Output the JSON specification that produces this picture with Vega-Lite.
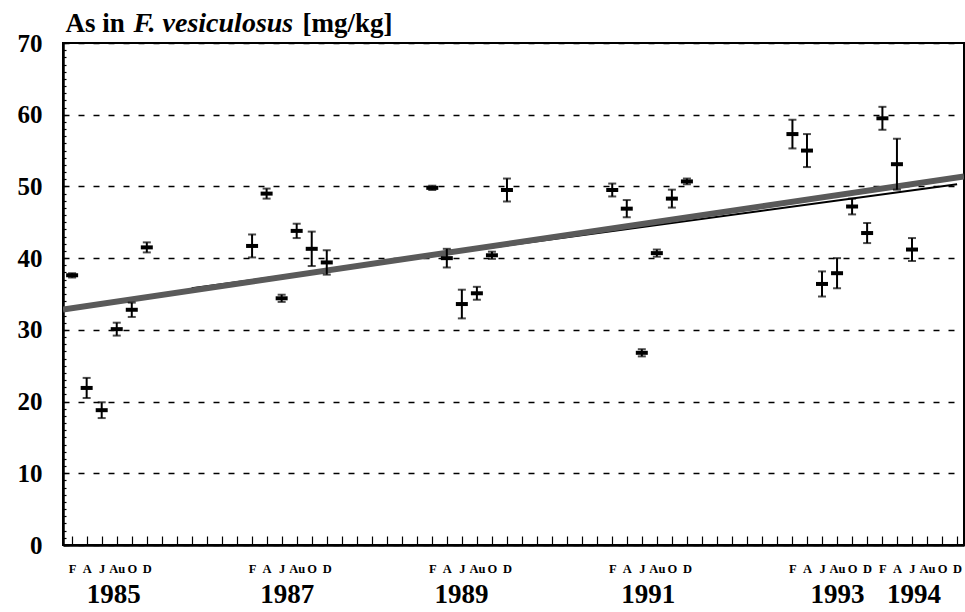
{
  "$schema": "https://vega.github.io/schema/vega-lite/v6.json",
  "width": 901,
  "height": 502,
  "autosize": "none",
  "padding": {"left": 63, "top": 43, "right": 1, "bottom": 67},
  "background": "white",
  "config": {"view": {"stroke": "black", "strokeWidth": 2}},
  "datasets": {
    "points": [
      {"date": "1985-02-01", "as": 37.6, "err": 0.3},
      {"date": "1985-04-01", "as": 21.9, "err": 1.4},
      {"date": "1985-06-01", "as": 18.8, "err": 1.1},
      {"date": "1985-08-01", "as": 30.1, "err": 0.9},
      {"date": "1985-10-01", "as": 32.8, "err": 1.0},
      {"date": "1985-12-01", "as": 41.5, "err": 0.7},
      {"date": "1987-02-01", "as": 41.7, "err": 1.6},
      {"date": "1987-04-01", "as": 49.0, "err": 0.7},
      {"date": "1987-06-01", "as": 34.4, "err": 0.5},
      {"date": "1987-08-01", "as": 43.8, "err": 1.0},
      {"date": "1987-10-01", "as": 41.3, "err": 2.4},
      {"date": "1987-12-01", "as": 39.4, "err": 1.7},
      {"date": "1989-02-01", "as": 49.8, "err": 0.3},
      {"date": "1989-04-01", "as": 40.0, "err": 1.3},
      {"date": "1989-06-01", "as": 33.6, "err": 2.0},
      {"date": "1989-08-01", "as": 35.1, "err": 0.9},
      {"date": "1989-10-01", "as": 40.4, "err": 0.5},
      {"date": "1989-12-01", "as": 49.5, "err": 1.6},
      {"date": "1991-02-01", "as": 49.5, "err": 0.9},
      {"date": "1991-04-01", "as": 46.9, "err": 1.2},
      {"date": "1991-06-01", "as": 26.8, "err": 0.5},
      {"date": "1991-08-01", "as": 40.7, "err": 0.5},
      {"date": "1991-10-01", "as": 48.3, "err": 1.25},
      {"date": "1991-12-01", "as": 50.7, "err": 0.4},
      {"date": "1993-02-01", "as": 57.3, "err": 2.0},
      {"date": "1993-04-01", "as": 55.0, "err": 2.3},
      {"date": "1993-06-01", "as": 36.4, "err": 1.75},
      {"date": "1993-08-01", "as": 37.9, "err": 2.1},
      {"date": "1993-10-01", "as": 47.2, "err": 1.1},
      {"date": "1993-12-01", "as": 43.5, "err": 1.4},
      {"date": "1994-02-01", "as": 59.5, "err": 1.6},
      {"date": "1994-04-01", "as": 53.1, "err": 3.55},
      {"date": "1994-06-01", "as": 41.2, "err": 1.6}
    ],
    "blackTrend": [
      {"date": "1986-06-01", "as": 35.8},
      {"date": "1994-12-01", "as": 50.3}
    ],
    "greyTrend": [
      {"date": "1984-12-26", "as": 32.85},
      {"date": "1994-12-29", "as": 51.4}
    ]
  },
  "resolve": {"axis": {"x": "independent", "y": "independent"}},
  "layer": [
    {
      "data": {"name": "blackTrend"},
      "mark": {"type": "line", "color": "black", "strokeWidth": 2, "clip": true},
      "encoding": {
        "x": {
          "field": "date", "type": "temporal",
          "scale": {"domain": [{"year": 1984, "month": 12, "date": 26, "utc": true}, {"year": 1994, "month": 12, "date": 29, "utc": true}]},
          "axis": {
            "orient": "bottom",
            "title": null,
            "values": [
              {"year": 1985, "month": 2, "date": 1, "utc": true}, {"year": 1985, "month": 4, "date": 1, "utc": true}, {"year": 1985, "month": 6, "date": 1, "utc": true}, {"year": 1985, "month": 8, "date": 1, "utc": true}, {"year": 1985, "month": 10, "date": 1, "utc": true}, {"year": 1985, "month": 12, "date": 1, "utc": true},
              {"year": 1986, "month": 2, "date": 1, "utc": true}, {"year": 1986, "month": 4, "date": 1, "utc": true}, {"year": 1986, "month": 6, "date": 1, "utc": true}, {"year": 1986, "month": 8, "date": 1, "utc": true}, {"year": 1986, "month": 10, "date": 1, "utc": true}, {"year": 1986, "month": 12, "date": 1, "utc": true},
              {"year": 1987, "month": 2, "date": 1, "utc": true}, {"year": 1987, "month": 4, "date": 1, "utc": true}, {"year": 1987, "month": 6, "date": 1, "utc": true}, {"year": 1987, "month": 8, "date": 1, "utc": true}, {"year": 1987, "month": 10, "date": 1, "utc": true}, {"year": 1987, "month": 12, "date": 1, "utc": true},
              {"year": 1988, "month": 2, "date": 1, "utc": true}, {"year": 1988, "month": 4, "date": 1, "utc": true}, {"year": 1988, "month": 6, "date": 1, "utc": true}, {"year": 1988, "month": 8, "date": 1, "utc": true}, {"year": 1988, "month": 10, "date": 1, "utc": true}, {"year": 1988, "month": 12, "date": 1, "utc": true},
              {"year": 1989, "month": 2, "date": 1, "utc": true}, {"year": 1989, "month": 4, "date": 1, "utc": true}, {"year": 1989, "month": 6, "date": 1, "utc": true}, {"year": 1989, "month": 8, "date": 1, "utc": true}, {"year": 1989, "month": 10, "date": 1, "utc": true}, {"year": 1989, "month": 12, "date": 1, "utc": true},
              {"year": 1990, "month": 2, "date": 1, "utc": true}, {"year": 1990, "month": 4, "date": 1, "utc": true}, {"year": 1990, "month": 6, "date": 1, "utc": true}, {"year": 1990, "month": 8, "date": 1, "utc": true}, {"year": 1990, "month": 10, "date": 1, "utc": true}, {"year": 1990, "month": 12, "date": 1, "utc": true},
              {"year": 1991, "month": 2, "date": 1, "utc": true}, {"year": 1991, "month": 4, "date": 1, "utc": true}, {"year": 1991, "month": 6, "date": 1, "utc": true}, {"year": 1991, "month": 8, "date": 1, "utc": true}, {"year": 1991, "month": 10, "date": 1, "utc": true}, {"year": 1991, "month": 12, "date": 1, "utc": true},
              {"year": 1992, "month": 2, "date": 1, "utc": true}, {"year": 1992, "month": 4, "date": 1, "utc": true}, {"year": 1992, "month": 6, "date": 1, "utc": true}, {"year": 1992, "month": 8, "date": 1, "utc": true}, {"year": 1992, "month": 10, "date": 1, "utc": true}, {"year": 1992, "month": 12, "date": 1, "utc": true},
              {"year": 1993, "month": 2, "date": 1, "utc": true}, {"year": 1993, "month": 4, "date": 1, "utc": true}, {"year": 1993, "month": 6, "date": 1, "utc": true}, {"year": 1993, "month": 8, "date": 1, "utc": true}, {"year": 1993, "month": 10, "date": 1, "utc": true}, {"year": 1993, "month": 12, "date": 1, "utc": true},
              {"year": 1994, "month": 2, "date": 1, "utc": true}, {"year": 1994, "month": 4, "date": 1, "utc": true}, {"year": 1994, "month": 6, "date": 1, "utc": true}, {"year": 1994, "month": 8, "date": 1, "utc": true}, {"year": 1994, "month": 10, "date": 1, "utc": true}, {"year": 1994, "month": 12, "date": 1, "utc": true}
            ],
            "labelExpr": "(utcyear(datum.value) % 2 == 1 || utcyear(datum.value) == 1994) ? ['F','A','J','Au','O','D'][floor(utcmonth(datum.value)/2)] : ''",
            "labelAngle": 0,
            "labelOverlap": false,
            "labelFlush": false,
            "labelBound": false,
            "labelFont": "Liberation Serif",
            "labelFontWeight": "bold",
            "labelFontSize": 12.5,
            "labelColor": "black",
            "labelBaseline": "middle",
            "labelPadding": 32,
            "tickSize": -9,
            "tickWidth": 1.2,
            "tickColor": "black",
            "domain": true,
            "domainColor": "black",
            "domainWidth": 2.5,
            "grid": false
          }
        },
        "y": {
          "field": "as", "type": "quantitative",
          "scale": {"domain": [0, 70], "nice": false},
          "axis": {
            "orient": "left",
            "values": [0, 10, 20, 30, 40, 50, 60, 70],
            "title": "F. vesiculosus",
            "titleFont": "Liberation Serif",
            "titleFontStyle": "italic",
            "titleFontWeight": "bold",
            "titleFontSize": 28,
            "titleColor": "black",
            "titleAngle": 0,
            "titleAlign": "left",
            "titleBaseline": "alphabetic",
            "titleX": 70,
            "titleY": -12,
            "labelFont": "Liberation Serif",
            "labelFontWeight": "bold",
            "labelFontSize": 25,
            "labelColor": "black",
            "labelPadding": 21,
            "ticks": false,
            "domain": true,
            "domainColor": "black",
            "domainWidth": 2.5,
            "grid": true,
            "gridColor": "black",
            "gridDash": [6, 9],
            "gridWidth": 1.3,
            "gridOpacity": 1
          }
        }
      }
    },
    {
      "data": {"name": "greyTrend"},
      "mark": {"type": "line", "color": "#5a5a5a", "strokeWidth": 6, "clip": true},
      "encoding": {
        "x": {
          "field": "date", "type": "temporal",
          "axis": {
            "orient": "bottom",
            "title": "As in",
            "titleFont": "Liberation Serif",
            "titleFontWeight": "bold",
            "titleFontSize": 27,
            "titleColor": "black",
            "titleAngle": 0,
            "titleAlign": "left",
            "titleBaseline": "alphabetic",
            "titleX": 2,
            "titleY": -514,
            "values": [
              {"year": 1985, "month": 7, "date": 18, "utc": true},
              {"year": 1987, "month": 6, "date": 22, "utc": true},
              {"year": 1989, "month": 5, "date": 29, "utc": true},
              {"year": 1991, "month": 6, "date": 25, "utc": true},
              {"year": 1993, "month": 8, "date": 1, "utc": true},
              {"year": 1994, "month": 6, "date": 7, "utc": true}
            ],
            "labelExpr": "'' + utcyear(datum.value)",
            "labelAngle": 0,
            "labelOverlap": false,
            "labelFlush": false,
            "labelBound": false,
            "labelFont": "Liberation Serif",
            "labelFontWeight": "bold",
            "labelFontSize": 27,
            "labelColor": "black",
            "labelBaseline": "middle",
            "labelPadding": 49,
            "ticks": false,
            "domain": false,
            "grid": false
          }
        },
        "y": {
          "field": "as", "type": "quantitative",
          "axis": {
            "orient": "left",
            "values": [0,1,2,3,4,5,6,7,8,9,10,11,12,13,14,15,16,17,18,19,20,21,22,23,24,25,26,27,28,29,30,31,32,33,34,35,36,37,38,39,40,41,42,43,44,45,46,47,48,49,50,51,52,53,54,55,56,57,58,59,60,61,62,63,64,65,66,67,68,69,70],
            "labels": false,
            "domain": false,
            "grid": false,
            "tickSize": -3,
            "tickWidth": 1.2,
            "tickColor": "black",
            "title": "[mg/kg]",
            "titleFont": "Liberation Serif",
            "titleFontWeight": "bold",
            "titleFontSize": 27,
            "titleColor": "black",
            "titleAngle": 0,
            "titleAlign": "left",
            "titleBaseline": "alphabetic",
            "titleX": 239,
            "titleY": -12
          }
        }
      }
    },
    {
      "data": {"name": "points"},
      "mark": {"type": "errorbar", "color": "black", "ticks": {"size": 8, "thickness": 2, "color": "black"}, "rule": {"strokeWidth": 2, "color": "black"}},
      "encoding": {
        "x": {"field": "date", "type": "temporal", "axis": null},
        "y": {"field": "as", "type": "quantitative", "axis": null},
        "yError": {"field": "err"}
      }
    },
    {
      "data": {"name": "points"},
      "mark": {"type": "tick", "orient": "horizontal", "color": "black", "size": 12, "thickness": 4, "opacity": 1},
      "encoding": {
        "x": {"field": "date", "type": "temporal", "axis": null},
        "y": {"field": "as", "type": "quantitative", "axis": null}
      }
    }
  ]
}
